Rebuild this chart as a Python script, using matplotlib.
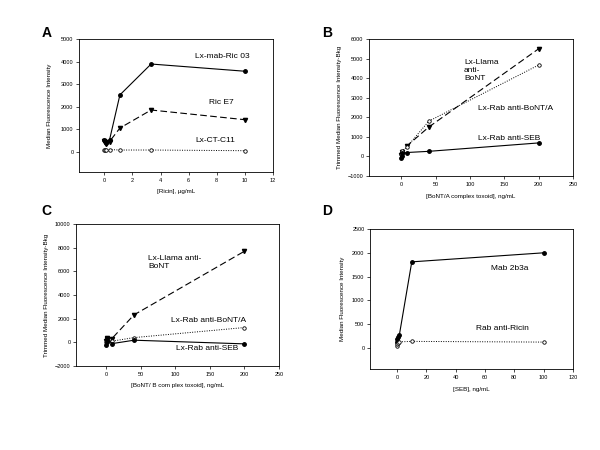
import matplotlib
matplotlib.use("Agg")
import matplotlib.pyplot as plt

plt.rcParams['font.family'] = ['Liberation Sans', 'DejaVu Sans']

# Panel A
A_x = [0, 0.04, 0.12, 0.37, 1.11, 3.33, 10]
A_ric03 = [520, 470, 380, 520, 2520, 3890, 3570]
A_ricE7 = [480, 430, 350, 450, 1050, 1850, 1420]
A_ctc11 = [90, 80, 85, 95, 75, 75, 45]

# Panel B
B_x = [0, 0.32, 1.6, 8, 40, 200]
B_llama = [60, 120, 250, 530, 1500, 5500]
B_rabA = [100, 200, 280, 480, 1800, 4670]
B_rabSEB = [-80, 30, 150, 200, 260, 690]

# Panel C
C_x = [0, 0.32, 1.6, 8, 40, 200]
C_llama = [100, 250, 400, 320, 2320, 7700]
C_rabA = [0, 100, 150, 100, 400, 1250]
C_rabSEB = [-200, 0, 300, -110, 180, -130]

# Panel D
D_x = [0, 0.2, 0.6, 1.5, 10, 100]
D_mab = [130, 200, 240, 270, 1810, 2000]
D_ricin = [50, 80, 110, 130, 140, 125]

fig = plt.figure(figsize=(6, 4.5), dpi=100)

def style(ax):
    ax.tick_params(labelsize=4, length=2, width=0.5, pad=2)
    for s in ax.spines.values():
        s.set_linewidth(0.6)

kw_solid = dict(color='black', lw=0.8, ls='-', marker='o', ms=2.5, mfc='black')
kw_dash = dict(color='black', lw=0.8, ls=(0, (6, 3)), marker='v', ms=3, mfc='black')
kw_dot = dict(color='black', lw=0.7, ls=(0, (1, 1.5)), marker='o', ms=2.5, mfc='white', mew=0.6)

# A
axA = fig.add_axes([79/600, 1-172/450, 194/600, 133/450])
axA.plot(A_x, A_ric03, **kw_solid)
axA.plot(A_x, A_ricE7, **kw_dash)
axA.plot(A_x, A_ctc11, **kw_dot)
axA.set_xlim(-1.8, 12)
axA.set_ylim(-900, 5000)
axA.set_xticks(range(0, 13, 2))
axA.set_yticks(range(0, 5001, 1000))
axA.set_xlabel('[Ricin], µg/mL', fontsize=4.5, labelpad=5)
axA.set_ylabel('Median Fluorescence Intensity', fontsize=4.5, labelpad=6)
style(axA)
axA.text(195/600, 1-57/450, 'Lx-mab-Ric 03', transform=fig.transFigure, fontsize=6, va='center')
axA.text(209/600, 1-103/450, 'Ric E7', transform=fig.transFigure, fontsize=6, va='center')
axA.text(195/600, 1-140/450, 'Lx-CT-C11', transform=fig.transFigure, fontsize=6, va='center')
fig.text(47/600, 1-33/450, 'A', fontsize=10, fontweight='bold', ha='center', va='center')

# B
axB = fig.add_axes([369/600, 1-176/450, 204/600, 137/450])
axB.plot(B_x, B_llama, **kw_dash)
axB.plot(B_x, B_rabA, **kw_dot)
axB.plot(B_x, B_rabSEB, **kw_solid)
axB.set_xlim(-47, 250)
axB.set_ylim(-1000, 6000)
axB.set_xticks(range(0, 251, 50))
axB.set_yticks(range(-1000, 6001, 1000))
axB.set_xlabel('[BoNT/A complex toxoid], ng/mL', fontsize=4.5, labelpad=5)
axB.set_ylabel('Trimmed Median Fluorescence Intensity-Bkg', fontsize=4.5, labelpad=4)
style(axB)
fig.text(464/600, 1-71/450, 'Lx-Llama\nanti-\nBoNT', fontsize=6, va='center', linespacing=1.2)
fig.text(478/600, 1-109/450, 'Lx-Rab anti-BoNT/A', fontsize=6, va='center')
fig.text(478/600, 1-139/450, 'Lx-Rab anti-SEB', fontsize=6, va='center')
fig.text(327/600, 1-33/450, 'B', fontsize=10, fontweight='bold', ha='center', va='center')

# C
axC = fig.add_axes([76/600, 1-366/450, 203/600, 142/450])
axC.plot(C_x, C_llama, **kw_dash)
axC.plot(C_x, C_rabA, **kw_dot)
axC.plot(C_x, C_rabSEB, **kw_solid)
axC.set_xlim(-44, 250)
axC.set_ylim(-2000, 10000)
axC.set_xticks(range(0, 251, 50))
axC.set_yticks(range(-2000, 10001, 2000))
axC.set_xlabel('[BoNT/ B com plex toxoid], ng/mL', fontsize=4.5, labelpad=5)
axC.set_ylabel('Trimmed Median Fluorescence Intensity-Bkg', fontsize=4.5, labelpad=4)
style(axC)
fig.text(148/600, 1-263/450, 'Lx-Llama anti-\nBoNT', fontsize=6, va='center', linespacing=1.2)
fig.text(171/600, 1-320/450, 'Lx-Rab anti-BoNT/A', fontsize=6, va='center')
fig.text(176/600, 1-349/450, 'Lx-Rab anti-SEB', fontsize=6, va='center')
fig.text(46/600, 1-211/450, 'C', fontsize=10, fontweight='bold', ha='center', va='center')

# D
axD = fig.add_axes([370/600, 1-369/450, 203/600, 140/450])
axD.plot(D_x, D_mab, **kw_solid)
axD.plot(D_x, D_ricin, **kw_dot)
axD.set_xlim(-18.5, 120)
axD.set_ylim(-440, 2500)
axD.set_xticks(range(0, 121, 20))
axD.set_yticks(range(0, 2501, 500))
axD.set_xlabel('[SEB], ng/mL', fontsize=4.5, labelpad=5)
axD.set_ylabel('Median Fluorescence Intensity', fontsize=4.5, labelpad=5)
style(axD)
fig.text(491/600, 1-268/450, 'Mab 2b3a', fontsize=6, va='center')
fig.text(476/600, 1-328/450, 'Rab anti-Ricin', fontsize=6, va='center')
fig.text(327/600, 1-211/450, 'D', fontsize=10, fontweight='bold', ha='center', va='center')

fig.savefig('out.png', dpi=100, facecolor='white')
